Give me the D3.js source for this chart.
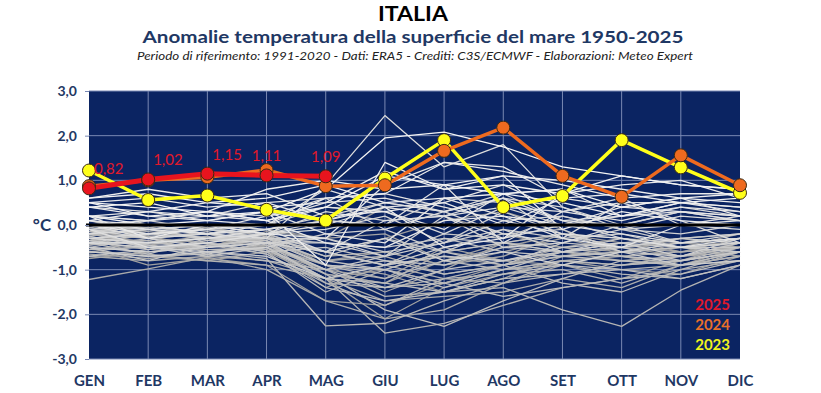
<!DOCTYPE html>
<html>
<head>
<meta charset="utf-8">
<script src="https://cdn.jsdelivr.net/npm/d3@7"></script>
<style>
  body { margin: 0; background: #fff; }
  text { font-family: Lato, "Open Sans", sans-serif; }
</style>
</head>
<body>
<svg id="chart" width="821" height="393"></svg>
<script>
const months = ["GEN", "FEB", "MAR", "APR", "MAG", "GIU", "LUG", "AGO", "SET", "OTT", "NOV", "DIC"];
const yTicks = [3, 2, 1, 0, -1, -2, -3];

// anni 1950-2022, letti a occhio dal grafico (linee grigie)
const pastYears = [
  [-0.2, -0.4, -0.3, -0.1, -0.3, 0.4, 0.2, -0.2, -0.5, -0.6, -0.3, -0.5],
  [-0.4, -0.1, -0.3, -0.5, -1.2, -1.0, -0.6, -0.4, -0.2, -0.5, -0.7, -0.4],
  [-0.75, -0.6, -0.45, -0.3, -0.6, -0.3, 0.1, 0.3, -0.1, -0.7, -0.9, -0.6],
  [-0.1, -0.3, -0.2, -0.4, -1.1, -1.3, -0.8, -0.5, -0.2, -0.4, -0.6, -0.3],
  [-0.5, -0.9, -0.75, -0.9, -1.7, -1.8, -1.3, -0.9, -0.6, -0.8, -0.9, -0.5],
  [0.1, -0.2, -0.1, -0.3, -0.8, -0.6, -0.9, -0.6, -0.3, -0.6, -0.5, -0.2],
  [-0.3, -0.7, -0.8, -0.6, -1.2, -2.1, -1.4, -1.1, -0.8, -1.0, -1.1, -0.7],
  [-0.2, 0.0, -0.2, -0.5, -1.4, -0.9, -0.7, -0.9, -0.5, -0.3, -0.6, -0.5],
  [-0.35, -0.25, -0.5, -0.15, -0.3, -0.2, -0.8, -0.4, -0.6, -0.5, -0.4, -0.3],
  [-0.6, -0.45, -0.3, -0.6, -1.0, -1.2, -0.5, -0.8, -0.9, -1.2, -0.8, -0.4],
  [-0.15, -0.3, -0.4, -0.2, -0.9, -1.1, -1.5, -1.2, -0.7, -0.6, -0.5, -0.4],
  [-0.45, -0.2, -0.05, -0.25, -0.7, -0.6, -0.9, -0.7, -0.2, -0.3, -0.4, -0.5],
  [-0.65, -0.75, -0.6, -0.5, -0.9, -1.5, -1.0, -0.4, -0.5, -0.7, -0.9, -0.8],
  [-1.22, -0.98, -0.72, -1.0, -1.7, -2.1, -1.9, -1.3, -0.9, -0.6, -0.5, -0.7],
  [-0.3, -0.35, -0.6, -0.45, -0.9, -1.0, -1.3, -1.0, -0.8, -0.9, -0.8, -0.6],
  [-0.7, -0.8, -0.7, -0.8, -1.2, -1.7, -1.6, -1.5, -1.2, -1.4, -0.9, -0.6],
  [0.0, -0.15, -0.3, -0.35, -0.8, -0.7, -1.1, -0.9, -0.7, -0.5, -0.6, -0.5],
  [-0.55, -0.4, -0.25, -0.55, -1.1, -1.3, -0.6, -0.8, -0.6, -0.4, -0.7, -0.6],
  [-0.25, -0.1, -0.35, -0.2, -0.6, -0.9, -1.2, -1.3, -0.8, -0.7, -0.6, -0.5],
  [-0.6, -0.65, -0.8, -0.9, -1.2, -2.42, -2.2, -1.8, -1.4, -1.2, -1.0, -0.8],
  [-0.4, -0.5, -0.45, -0.65, -1.3, -1.4, -1.2, -1.1, -1.0, -1.3, -0.9, -0.7],
  [-0.2, -0.45, -0.55, -0.5, -1.0, -1.6, -1.5, -1.4, -1.9, -2.27, -1.46, -0.9],
  [-0.5, -0.3, -0.6, -0.75, -2.26, -2.2, -1.7, -1.3, -1.1, -1.0, -0.9, -0.7],
  [-0.35, -0.55, -0.4, -0.6, -1.5, -1.0, -1.3, -1.0, -0.9, -1.1, -1.2, -0.9],
  [-0.05, -0.25, -0.2, -0.4, -1.3, -1.8, -1.2, -0.9, -1.3, -1.5, -1.0, -0.6],
  [-0.5, -0.6, -0.5, -0.3, -0.9, -1.2, -0.8, -1.0, -0.8, -0.9, -0.7, -0.5],
  [-0.6, -0.7, -0.65, -0.8, -1.0, -1.4, -1.3, -1.6, -1.4, -1.2, -1.1, -0.8],
  [-0.15, -0.05, -0.2, -0.35, -1.1, -1.9, -2.27, -1.7, -1.2, -0.8, -0.7, -0.5],
  [-0.45, -0.35, -0.55, -0.55, -1.2, -1.3, -1.5, -1.2, -1.1, -0.9, -0.8, -0.6],
  [-0.2, -0.3, -0.15, -0.45, -1.0, -0.8, -1.1, -0.9, -0.7, -0.8, -0.9, -0.6],
  [-0.55, -0.5, -0.4, -0.65, -1.4, -1.7, -1.5, -1.1, -0.9, -1.0, -1.2, -0.9],
  [-0.7, -0.55, -0.35, -0.3, -0.8, -1.0, -1.4, -1.0, -0.6, -0.7, -0.8, -0.5],
  [-0.3, -0.4, -0.5, -0.25, -0.7, -0.3, -0.6, -0.9, -0.4, -0.5, -0.3, -0.2],
  [-0.4, -0.65, -0.3, -0.2, -0.6, -0.9, -0.3, -0.6, -0.7, -0.6, -0.5, -0.4],
  [-0.25, -0.5, -0.7, -0.5, -1.2, -1.4, -1.0, -0.8, -0.6, -0.4, -0.5, -0.6],
  [-0.5, -0.8, -0.45, -0.35, -0.9, -1.0, -0.6, -0.4, -0.2, -0.6, -0.7, -0.4],
  [-0.1, -0.55, -0.4, -0.6, -0.5, -0.8, -0.9, -0.5, -0.6, -0.3, -0.5, -0.5],
  [-0.35, -0.45, -0.65, -0.4, -1.0, -0.7, -0.2, -0.3, 0.2, -0.1, -0.4, -0.3],
  [-0.1, -0.2, -0.3, -0.3, -0.4, -0.5, -0.3, -0.4, -0.6, -0.5, -0.8, -0.6],
  [-0.4, -0.2, -0.1, -0.3, -0.6, -0.9, -0.7, -0.8, -0.5, -0.4, -0.3, -0.2],
  [-0.2, 0.1, -0.1, -0.3, -0.3, -0.6, -0.4, -0.1, -0.3, -0.2, -0.5, -0.6],
  [-0.6, -0.7, -0.6, -0.7, -1.2, -0.9, -0.5, -0.2, -0.1, -0.6, -0.9, -0.8],
  [-0.5, -0.6, -0.5, -0.4, -0.3, -0.7, -0.4, 0.3, -0.2, -0.5, -0.3, -0.4],
  [-0.4, -0.5, -0.6, -0.5, -0.2, -0.1, -0.6, -0.1, -0.6, -0.4, -0.7, -0.3],
  [-0.3, -0.2, -0.1, -0.2, 0.1, 0.0, 0.6, 0.5, 0.1, 0.0, 0.3, 0.1],
  [-0.2, -0.1, -0.3, -0.4, -0.4, -0.7, 0.2, -0.5, -0.4, -0.1, -0.2, 0.0],
  [-0.1, -0.3, -0.5, -0.4, -0.6, -0.3, -0.8, -0.6, -0.9, -0.6, -0.4, -0.2],
  [0.0, -0.1, 0.0, -0.2, -0.1, 0.2, -0.4, 0.1, 0.2, -0.1, 0.0, -0.1],
  [-0.1, 0.0, -0.2, -0.1, 0.2, 0.5, 0.3, 0.7, 0.1, -0.3, -0.5, -0.4],
  [-0.3, -0.4, -0.3, -0.2, 0.3, 0.1, 0.2, 0.6, 0.4, 0.0, -0.4, -0.3],
  [-0.3, -0.2, -0.1, 0.0, 0.4, 0.3, -0.2, 0.4, 0.0, 0.2, 0.4, 0.2],
  [0.2, 0.1, 0.3, 0.2, 0.6, -0.1, 0.3, 0.6, -0.3, 0.5, 0.1, -0.4],
  [-0.2, -0.1, 0.0, -0.1, 0.1, 0.5, 0.3, -0.2, -0.4, 0.0, 0.3, 0.2],
  [0.0, -0.3, -0.2, -0.3, 0.9, 2.45, 1.3, 1.8, 0.4, -0.1, 0.2, 0.1],
  [0.1, 0.0, -0.2, -0.1, -0.6, 0.1, 0.2, 0.4, 0.3, 0.6, 0.0, 0.2],
  [-0.1, -0.5, -0.4, -0.2, 0.0, 0.4, 0.2, -0.3, 0.0, -0.2, -0.4, -0.3],
  [-0.4, -0.4, -0.3, -0.1, 0.1, 0.0, 0.9, -0.4, 0.3, 0.5, 0.5, 0.4],
  [0.4, 0.3, 0.2, 0.5, 0.6, 0.7, 0.4, 0.1, -0.2, -0.3, -0.5, -0.3],
  [0.0, 0.1, 0.2, 0.1, 0.5, 0.6, 0.3, 0.6, 0.1, 0.2, 0.3, 0.1],
  [0.1, -0.1, -0.2, 0.0, 0.8, 0.4, 0.5, 0.9, 0.3, 0.1, 0.4, 0.3],
  [0.2, 0.3, 0.1, 0.3, -0.2, -0.4, 0.6, 0.2, -0.3, -0.5, 0.0, 0.1],
  [0.0, -0.2, -0.1, 0.2, 0.4, 0.3, -0.1, 0.7, 0.8, 0.2, 0.5, 0.3],
  [0.2, -0.3, 0.0, -0.2, -0.3, 0.9, 1.4, 1.3, 0.6, 0.4, 0.6, 0.2],
  [0.2, 0.1, 0.3, 0.1, -0.4, -0.5, 0.1, 0.2, 0.0, 0.4, 0.3, 0.2],
  [0.5, 0.6, 0.4, 0.5, 0.1, 0.4, -0.5, -0.3, 0.7, 0.9, 1.0, 0.6],
  [0.4, 0.2, 0.1, 0.0, 0.6, 0.7, 1.4, 1.2, 0.9, 0.6, 0.7, 0.7],
  [0.6, 0.8, 0.6, 0.7, 0.2, 0.3, 0.5, 0.0, 0.6, 0.7, 0.5, 0.4],
  [0.1, 0.3, 0.5, 0.4, 0.5, 1.2, 0.8, 1.1, -0.1, 0.3, 0.1, 0.0],
  [0.5, 0.2, 0.3, 0.8, 1.0, 0.8, 0.9, 1.1, 1.0, 0.8, 0.6, 0.5],
  [0.2, 0.0, 0.1, 0.3, -0.9, 1.4, 0.8, 0.9, 0.7, 1.1, 0.9, 0.8],
  [0.6, 0.7, 0.5, 0.6, 0.9, 0.5, 0.6, 0.7, 0.8, 0.4, 0.6, 0.7],
  [0.5, 0.4, 0.3, 0.1, 0.4, 1.1, 0.9, 0.7, 0.5, 0.2, 0.5, 0.6],
  [0.4, 0.5, 0.2, 0.3, 0.8, 1.95, 2.08, 1.75, 1.3, 1.1, 0.9, 0.8],
];

const y2023 = [1.22, 0.56, 0.66, 0.34, 0.10, 1.04, 1.90, 0.40, 0.65, 1.90, 1.29, 0.72];
const y2024 = [0.87, 1.00, 1.07, 1.23, 0.87, 0.89, 1.66, 2.18, 1.10, 0.63, 1.56, 0.89];
const y2025 = [0.82, 1.02, 1.15, 1.11, 1.09];

const highlight = [
  { year: "2023", values: y2023, color: "#ffff1a", text: "#f2f21c", width: 3.5 },
  { year: "2024", values: y2024, color: "#ee6a1f", text: "#e86f2a", width: 3.5 },
  { year: "2025", values: y2025, color: "#e8141e", text: "#e0192a", width: 5 },
];

const navy = "#0b2462";
const labelBlue = "#1f3864";
const margin = { top: 91, right: 81, bottom: 34, left: 89 };

const svg = d3.select("#chart");
const width = +svg.attr("width") - margin.left - margin.right;
const height = +svg.attr("height") - margin.top - margin.bottom;

const xScale = d3.scalePoint().domain(months).range([0, width]);
const yScale = d3.scaleLinear().domain([-3, 3]).range([height, 0]);
const fmt = (v) => d3.format(".1f")(v).replace(".", ",").replace("−", "-");
const fmt2 = (v) => d3.format(".2f")(v).replace(".", ",");

// titoli
svg.append("text")
  .attr("x", 413).attr("y", 21)
  .attr("text-anchor", "middle")
  .attr("font-size", 20).attr("font-weight", "bold")
  .attr("fill", "#000")
  .attr("textLength", 70).attr("lengthAdjust", "spacingAndGlyphs")
  .text("ITALIA");

svg.append("text")
  .attr("x", 413).attr("y", 43)
  .attr("text-anchor", "middle")
  .attr("font-size", 17).attr("font-weight", "bold")
  .attr("fill", labelBlue)
  .attr("textLength", 541).attr("lengthAdjust", "spacingAndGlyphs")
  .text("Anomalie temperatura della superficie del mare 1950-2025");

svg.append("text")
  .attr("x", 415).attr("y", 60)
  .attr("text-anchor", "middle")
  .attr("font-size", 12).attr("font-style", "italic")
  .attr("fill", "#222")
  .attr("textLength", 556).attr("lengthAdjust", "spacingAndGlyphs")
  .text("Periodo di riferimento: 1991-2020 - Dati: ERA5 - Crediti: C3S/ECMWF - Elaborazioni: Meteo Expert");

const g = svg.append("g").attr("transform", `translate(${margin.left},${margin.top})`);

// sfondo area grafico
g.append("rect")
  .attr("width", width).attr("height", height)
  .attr("fill", navy);

// griglia
g.append("g")
  .selectAll("line")
  .data(yTicks)
  .join("line")
  .attr("x1", 0).attr("x2", width)
  .attr("y1", (d) => yScale(d)).attr("y2", (d) => yScale(d))
  .attr("stroke", "#7a89b3").attr("stroke-width", 1);

g.append("g")
  .selectAll("line")
  .data(months.slice(1, -1))
  .join("line")
  .attr("x1", (d) => xScale(d)).attr("x2", (d) => xScale(d))
  .attr("y1", 0).attr("y2", height)
  .attr("stroke", "#7a89b3").attr("stroke-width", 1);

const line = d3.line()
  .x((d, i) => xScale(months[i]))
  .y((d) => yScale(d));

// anni passati in grigio, dal piu' scuro al piu' chiaro
const grayColor = d3.interpolateRgb("#9a9a9a", "#f4f4f4");
g.append("g")
  .selectAll("path")
  .data(pastYears)
  .join("path")
  .attr("d", line)
  .attr("fill", "none")
  .attr("stroke", (d, i) => grayColor(i / (pastYears.length - 1)))
  .attr("stroke-width", 1.3)
  .attr("stroke-linejoin", "round");

// linea dello zero
g.append("line")
  .attr("x1", -3).attr("x2", width)
  .attr("y1", yScale(0)).attr("y2", yScale(0))
  .attr("stroke", "#000").attr("stroke-width", 3);

// assi
const yAxis = g.append("g")
  .call(d3.axisLeft(yScale).tickValues(yTicks).tickFormat(fmt).tickSize(4).tickPadding(8));
yAxis.select(".domain").remove();
yAxis.selectAll("line").attr("stroke", "#7a89b3");
yAxis.selectAll("text")
  .attr("font-family", "Lato, sans-serif")
  .attr("font-size", 14).attr("font-weight", "bold")
  .attr("fill", labelBlue);

const xAxis = g.append("g")
  .attr("transform", `translate(0,${height})`)
  .call(d3.axisBottom(xScale).tickSize(0).tickPadding(16));
xAxis.select(".domain").remove();
xAxis.selectAll("text")
  .attr("font-family", "Lato, sans-serif")
  .attr("font-size", 15).attr("font-weight", "bold")
  .attr("fill", labelBlue);

svg.append("text")
  .attr("x", 42).attr("y", margin.top + yScale(0) + 6)
  .attr("text-anchor", "middle")
  .attr("font-size", 17).attr("font-weight", "bold")
  .attr("fill", labelBlue)
  .text("°C");

// anni evidenziati
highlight.forEach((s) => {
  g.append("path")
    .datum(s.values)
    .attr("d", line)
    .attr("fill", "none")
    .attr("stroke", s.color)
    .attr("stroke-width", s.width)
    .attr("stroke-linejoin", "round");
});

highlight.forEach((s) => {
  g.append("g")
    .selectAll("circle")
    .data(s.values)
    .join("circle")
    .attr("cx", (d, i) => xScale(months[i]))
    .attr("cy", (d) => yScale(d))
    .attr("r", 6.5)
    .attr("fill", s.color)
    .attr("stroke", "#3b2a12")
    .attr("stroke-width", 1);
});

// etichette 2025
g.append("g")
  .selectAll("text")
  .data(y2025)
  .join("text")
  .attr("x", (d, i) => xScale(months[i]) + (i < 3 ? 5 : 0))
  .attr("y", (d) => yScale(d) - 14)
  .attr("text-anchor", (d, i) => (i < 3 ? "start" : "middle"))
  .attr("font-size", 15)
  .attr("fill", "#e0192a")
  .text(fmt2);

// legenda
const legend = g.append("g")
  .attr("transform", `translate(${width - 10},${yScale(-1.9)})`);
highlight.slice().reverse().forEach((s, i) => {
  legend.append("text")
    .attr("x", 0).attr("y", i * 20)
    .attr("text-anchor", "end")
    .attr("font-size", 15).attr("font-weight", "bold")
    .attr("fill", s.text)
    .text(s.year);
});
</script>
</body>
</html>
